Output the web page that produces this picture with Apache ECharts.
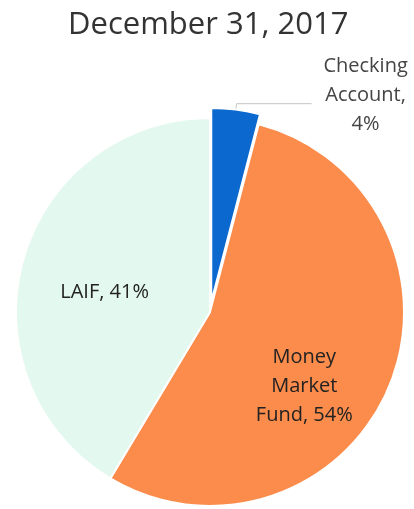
<!DOCTYPE html>
<html>
<head>
<meta charset="utf-8">
<script src="https://cdn.jsdelivr.net/npm/echarts@6/dist/echarts.min.js"></script>
<style>
  html, body { margin: 0; padding: 0; background: #fff; }
  #chart { width: 414px; height: 509px; }
</style>
</head>
<body>
<div id="chart"></div>
<script>
const titleText = "December 31, 2017";
const categories = ["Checking\nAccount", "Money\nMarket\nFund", "LAIF"];
const shares = [4, 54, 41];
const sliceColors = ["#0a68cf", "#fb8c4c", "#e3f8ef"];

const chart = echarts.init(document.getElementById("chart"), null, { renderer: "canvas" });

// label nudges so the text sits where the original placed it
const labelShift = [
  { dx: 49, dy: -8, align: "center", verticalAlign: "middle" },
  { dx: 2, dy: 36 },
  { dx: -9, dy: 7 },
];

const pieData = categories.map((name, i) => {
  const item = {
    name: name,
    value: shares[i],
    itemStyle: { color: sliceColors[i] },
  };
  if (i === 0) {
    item.selected = true;
    item.label = {
      position: "outside",
      formatter: "{b},\n{c}%",
      color: "#444",
    };
    item.labelLine = {
      show: true,
      length: 6,
      length2: 75,
      lineStyle: { color: "#c4c4c4", width: 1 },
    };
  } else {
    item.label = { position: "inside" };
    item.labelLine = { show: false };
  }
  return item;
});

chart.setOption({
  animation: false,
  title: {
    text: titleText,
    left: 63,
    top: 5,
    textStyle: {
      fontFamily: "Open Sans",
      fontSize: 31,
      fontWeight: "normal",
      color: "#333",
    },
  },
  series: [
    {
      type: "pie",
      center: [210, 312],
      radius: [0, 194],
      startAngle: 90,
      clockwise: true,
      selectedMode: "multiple",
      selectedOffset: 10,
      itemStyle: { borderColor: "#fff", borderWidth: 2 },
      label: {
        formatter: "{b}, {c}%",
        fontFamily: "Open Sans",
        fontSize: 20,
        lineHeight: 29,
        color: "#222",
        align: "center",
      },
      labelLayout: (params) => labelShift[params.dataIndex],
      emphasis: { disabled: true },
      data: pieData,
    },
  ],
});
</script>
</body>
</html>
